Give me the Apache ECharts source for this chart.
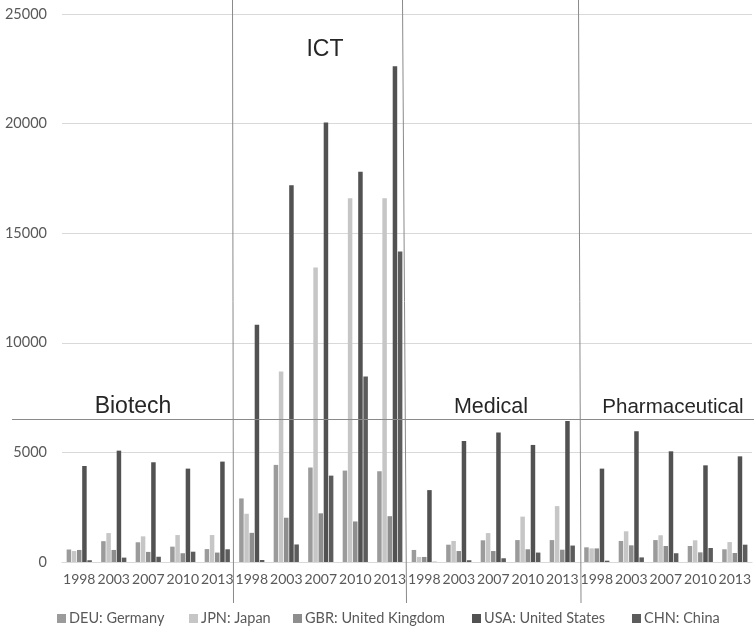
<!DOCTYPE html>
<html>
<head>
<meta charset="utf-8">
<script src="https://cdn.jsdelivr.net/npm/echarts@6/dist/echarts.min.js"></script>
<style>
html,body{margin:0;padding:0;background:#fff;}
#chart{width:754px;height:631px;}
</style>
</head>
<body>
<div id="chart"></div>
<script>
const sectors = ['Biotech', 'ICT', 'Medical', 'Pharmaceutical'];
const years = ['1998', '2003', '2007', '2010', '2013'];
const seriesNames = ['DEU: Germany', 'JPN: Japan', 'GBR: United Kingdom', 'USA: United States', 'CHN: China'];
// values per sector (Biotech, ICT, Medical, Pharmaceutical) x year
const deu = [570, 950, 900, 700, 590,   2900, 4430, 4310, 4170, 4140,   550, 790, 990, 1000, 1000,   670, 960, 1000, 730, 580];
const jpn = [500, 1320, 1170, 1230, 1230,   2200, 8690, 13440, 16600, 16600,   230, 960, 1320, 2070, 2550,   620, 1400, 1220, 990, 910];
const gbr = [550, 550, 460, 400, 430,   1330, 2020, 2220, 1850, 2090,   230, 500, 500, 580, 560,   620, 760, 730, 440, 410];
const usa = [4380, 5080, 4550, 4260, 4580,   10820, 17190, 20050, 17800, 22620,   3280, 5520, 5910, 5340, 6430,   4260, 5970, 5050, 4410, 4820];
const chn = [80, 200, 240, 470, 580,   90, 800, 3940, 8460, 14170,   10, 80, 170, 430, 750,   60, 210, 400, 640, 790];
const yTicks = [0, 5000, 10000, 15000, 20000, 25000];

const categories = [];
sectors.forEach(s => years.forEach(y => categories.push(s + ' ' + y)));
const seriesData = [deu, jpn, gbr, usa, chn];
const colors = ['#9b9b9b', '#c6c6c6', '#8e8e8e', '#525252', '#5c5c5c'];
const legendLeft = [57, 189, 293, 472, 632];

const labelFont = 'Lato, "Liberation Sans", sans-serif';
const titleFont = '"Liberation Sans", Arial, sans-serif';

const chart = echarts.init(document.getElementById('chart'));
const option = {
  backgroundColor: '#ffffff',
  animation: false,
  grid: { left: 62, right: 0, top: 14, bottom: 69, containLabel: false },
  xAxis: {
    type: 'category',
    data: categories,
    axisTick: { show: false },
    axisLine: { lineStyle: { color: '#d9d9d9', width: 1 } },
    axisLabel: {
      interval: 0,
      margin: 10,
      color: '#595959',
      fontFamily: labelFont,
      fontSize: 14,
      formatter: v => v.split(' ')[1]
    }
  },
  yAxis: {
    type: 'value',
    min: yTicks[0],
    max: yTicks[yTicks.length - 1],
    interval: yTicks[1] - yTicks[0],
    axisLine: { show: false },
    axisTick: { show: false },
    splitLine: { lineStyle: { color: '#d9d9d9', width: 1 } },
    axisLabel: { color: '#595959', fontFamily: labelFont, fontSize: 14.5, margin: 15, formatter: v => String(v) }
  },
  legend: seriesNames.map((n, i) => ({
    data: [n],
    left: legendLeft[i],
    top: 611,
    icon: 'rect',
    itemWidth: 9,
    itemHeight: 9,
    padding: 0,
    textStyle: { color: '#595959', fontFamily: labelFont, fontSize: 14.5, padding: [0, 0, 0, -2] }
  })),
  series: seriesNames.map((n, i) => ({
    name: n,
    type: 'bar',
    data: seriesData[i],
    barWidth: 4.5,
    barGap: '15%',
    itemStyle: { color: colors[i] }
  })),
  graphic: [
    { type: 'line', shape: { x1: 12, y1: 419.5, x2: 754, y2: 419.5 }, style: { stroke: '#8a8a8a', lineWidth: 1 }, z: 100 },
    { type: 'line', shape: { x1: 232.5, y1: 0, x2: 233.5, y2: 603 }, style: { stroke: '#8a8a8a', lineWidth: 1 }, z: 100 },
    { type: 'line', shape: { x1: 402.5, y1: 0, x2: 406.5, y2: 603 }, style: { stroke: '#8a8a8a', lineWidth: 1 }, z: 100 },
    { type: 'line', shape: { x1: 578.5, y1: 0, x2: 581, y2: 603 }, style: { stroke: '#8a8a8a', lineWidth: 1 }, z: 100 },
    { type: 'text', x: 325, y: 50, style: { text: sectors[1], font: '23px ' + titleFont, fill: '#262626', textAlign: 'center', textVerticalAlign: 'middle' }, z: 101 },
    { type: 'text', x: 133, y: 407, style: { text: sectors[0], font: '23px ' + titleFont, fill: '#262626', textAlign: 'center', textVerticalAlign: 'middle' }, z: 101 },
    { type: 'text', x: 491, y: 407, style: { text: sectors[2], font: '21.5px ' + titleFont, fill: '#262626', textAlign: 'center', textVerticalAlign: 'middle' }, z: 101 },
    { type: 'text', x: 673, y: 407, style: { text: sectors[3], font: '20.5px ' + titleFont, fill: '#262626', textAlign: 'center', textVerticalAlign: 'middle' }, z: 101 }
  ]
};
chart.setOption(option);
</script>
</body>
</html>
